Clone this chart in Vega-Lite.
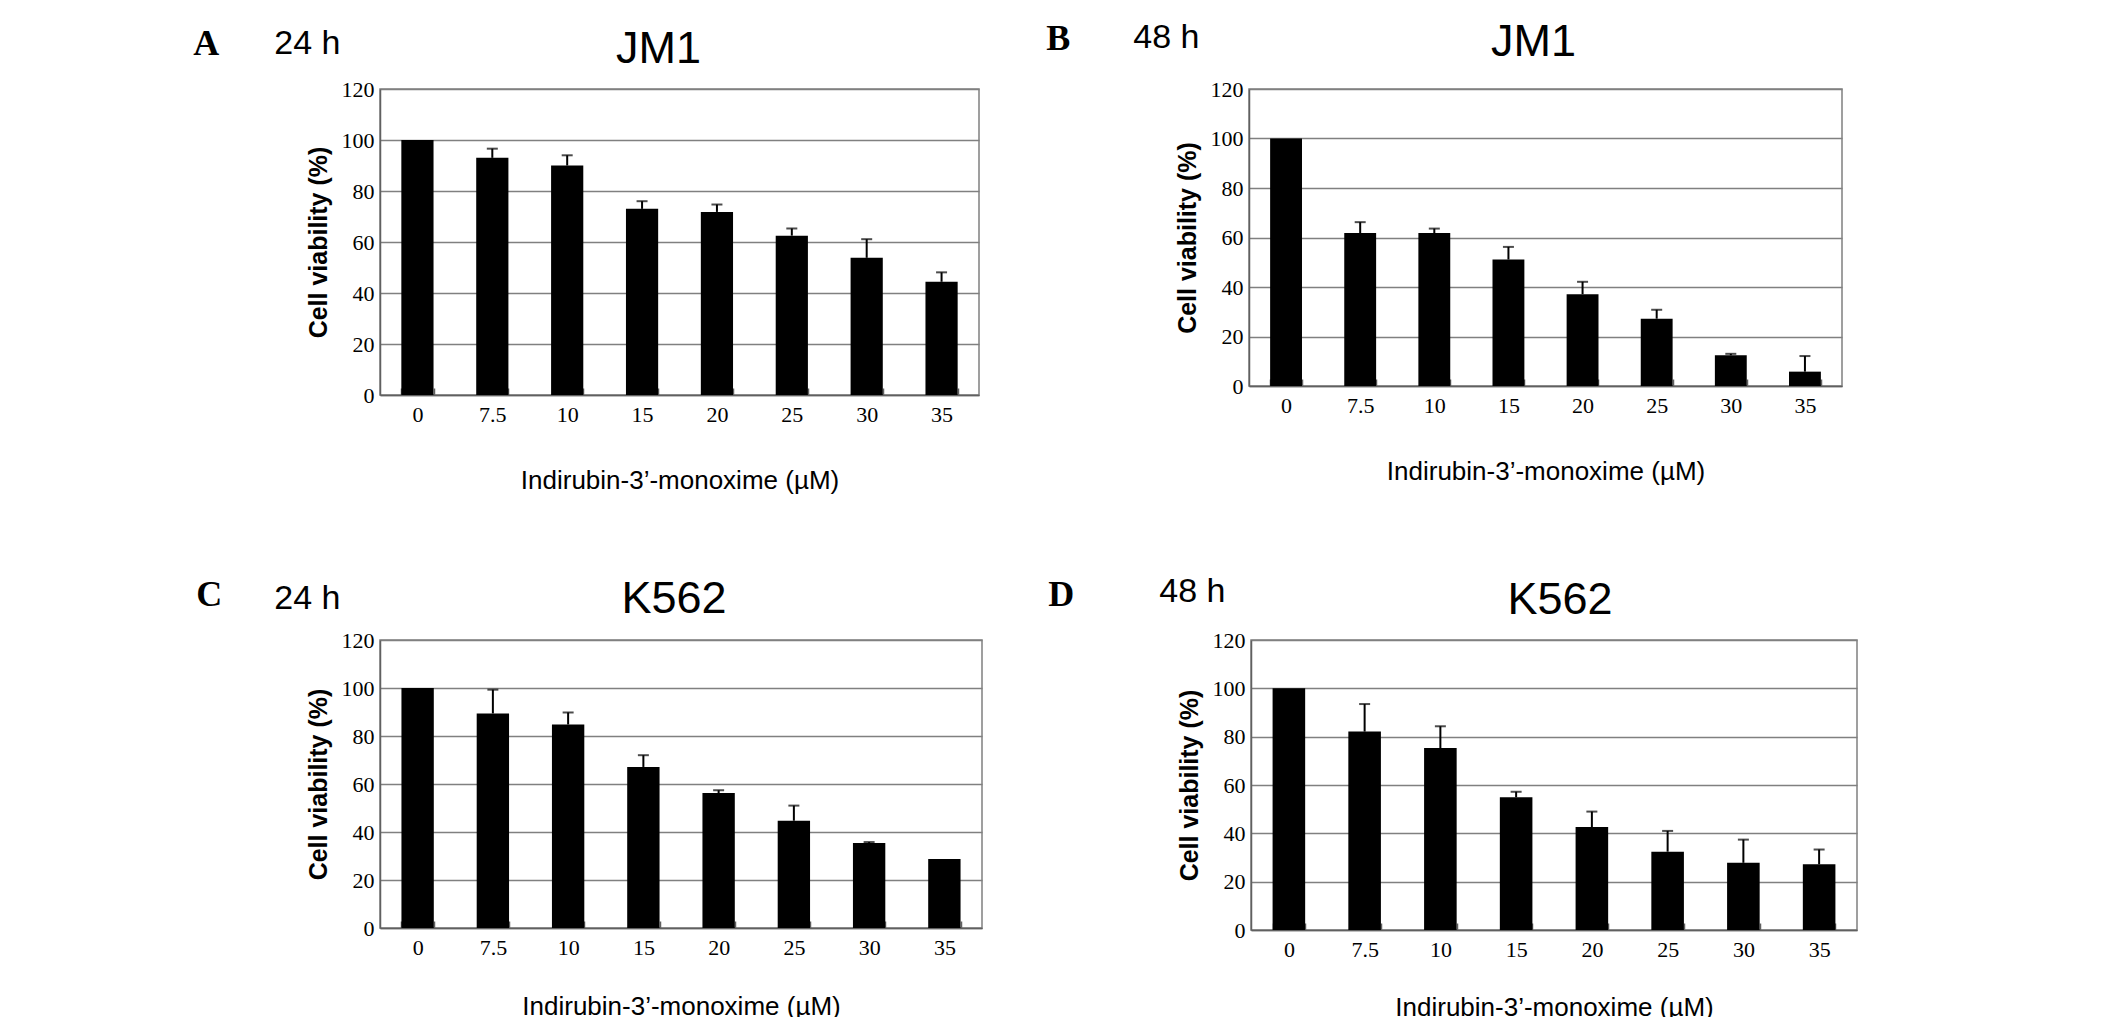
{
  "$schema": "https://vega.github.io/schema/vega-lite/v6.json",
  "description": "Cell viability of JM1 and K562 cells after 24 h and 48 h of indirubin-3'-monoxime.",
  "background": "white",
  "padding": {"left": 193, "top": 19, "right": 10, "bottom": 0},
  "datasets": {
    "viability": [
      {"panel": "A", "conc": "0", "viability": 100, "upper": null},
      {"panel": "A", "conc": "7.5", "viability": 93.0, "upper": 96.6},
      {"panel": "A", "conc": "10", "viability": 90.0, "upper": 94.0},
      {"panel": "A", "conc": "15", "viability": 73.0, "upper": 76.0},
      {"panel": "A", "conc": "20", "viability": 71.8, "upper": 74.7},
      {"panel": "A", "conc": "25", "viability": 62.5, "upper": 65.3},
      {"panel": "A", "conc": "30", "viability": 53.8, "upper": 61.1},
      {"panel": "A", "conc": "35", "viability": 44.4, "upper": 48.1},
      {"panel": "B", "conc": "0", "viability": 100, "upper": null},
      {"panel": "B", "conc": "7.5", "viability": 61.8, "upper": 66.2},
      {"panel": "B", "conc": "10", "viability": 61.8, "upper": 63.6},
      {"panel": "B", "conc": "15", "viability": 51.1, "upper": 56.2},
      {"panel": "B", "conc": "20", "viability": 37.1, "upper": 42.1},
      {"panel": "B", "conc": "25", "viability": 27.2, "upper": 30.8},
      {"panel": "B", "conc": "30", "viability": 12.4, "upper": 13.0},
      {"panel": "B", "conc": "35", "viability": 5.8, "upper": 12.1},
      {"panel": "C", "conc": "0", "viability": 100, "upper": null},
      {"panel": "C", "conc": "7.5", "viability": 89.4, "upper": 99.3},
      {"panel": "C", "conc": "10", "viability": 84.8, "upper": 89.8},
      {"panel": "C", "conc": "15", "viability": 67.1, "upper": 72.0},
      {"panel": "C", "conc": "20", "viability": 56.2, "upper": 57.4},
      {"panel": "C", "conc": "25", "viability": 44.7, "upper": 51.0},
      {"panel": "C", "conc": "30", "viability": 35.4, "upper": 35.8},
      {"panel": "C", "conc": "35", "viability": 28.8, "upper": null},
      {"panel": "D", "conc": "0", "viability": 100, "upper": null},
      {"panel": "D", "conc": "7.5", "viability": 82.1, "upper": 93.5},
      {"panel": "D", "conc": "10", "viability": 75.3, "upper": 84.3},
      {"panel": "D", "conc": "15", "viability": 54.9, "upper": 57.2},
      {"panel": "D", "conc": "20", "viability": 42.6, "upper": 49.0},
      {"panel": "D", "conc": "25", "viability": 32.4, "upper": 41.0},
      {"panel": "D", "conc": "30", "viability": 27.8, "upper": 37.4},
      {"panel": "D", "conc": "35", "viability": 27.2, "upper": 33.3}
    ]
  },
  "config": {
    "font": "Liberation Sans",
    "view": {"stroke": "#808080", "strokeWidth": 1.5},
    "axisX": {
      "domainColor": "#606060", "domainWidth": 1.5,
      "tickColor": "#606060", "tickWidth": 1.5, "tickSize": -7, "tickBand": "extent",
      "labelFont": "Liberation Serif", "labelFontSize": 22, "labelColor": "black", "labelAngle": 0, "labelPadding": 16,
      "titleFont": "Liberation Sans", "titleFontSize": 26, "titleFontWeight": "normal", "titleColor": "black", "titlePadding": 42,
      "grid": false
    },
    "axisY": {
      "domainColor": "#606060", "domainWidth": 1.5, "ticks": false,
      "gridColor": "#808080", "gridWidth": 1.5, "gridOpacity": 1,
      "labelFont": "Liberation Serif", "labelFontSize": 22, "labelColor": "black", "labelPadding": 6,
      "titleFont": "Liberation Sans", "titleFontSize": 25, "titleFontWeight": "bold", "titleColor": "black", "titlePadding": 10
    },
    "title": {"font": "Liberation Sans", "fontSize": 45, "fontWeight": "normal", "color": "black", "baseline": "alphabetic", "anchor": "middle"}
  },
  "spacing": 81,
  "vconcat": [
    {
      "spacing": 66,
      "hconcat": [
        {
          "title": {"text": "A", "anchor": "start", "frame": "bounds", "font": "Liberation Serif", "fontWeight": "bold", "fontSize": 36, "offset": 0, "dx": -81, "dy": 37},
          "vconcat": [
            {
              "title": {"text": "24 h", "anchor": "start", "frame": "bounds", "fontSize": 34, "offset": 0, "dx": -31, "dy": 35},
              "vconcat": [
                {
                  "title": {"text": "JM1", "offset": 6, "dx": -21},
                  "width": 599, "height": 306,
                  "data": {"name": "viability"},
                  "transform": [{"filter": "datum.panel == 'A'"}],
                  "encoding": {
                    "x": {"field": "conc", "type": "nominal", "sort": ["0", "7.5", "10", "15", "20", "25", "30", "35"], "title": "Indirubin-3’-monoxime (µM)", "scale": {"paddingInner": 0.57, "paddingOuter": 0.285}}
                  },
                  "layer": [
                    {"mark": {"type": "bar", "color": "black"}, "encoding": {"y": {"field": "viability", "type": "quantitative", "title": "Cell viability (%)", "scale": {"domain": [0, 120], "nice": false}, "axis": {"values": [0, 20, 40, 60, 80, 100, 120]}}}},
                    {"transform": [{"filter": "datum.upper != null"}], "mark": {"type": "rule", "color": "black", "strokeWidth": 2}, "encoding": {"y": {"field": "viability", "type": "quantitative"}, "y2": {"field": "upper"}}},
                    {"transform": [{"filter": "datum.upper != null"}], "mark": {"type": "tick", "color": "black", "thickness": 2, "size": 11}, "encoding": {"y": {"field": "upper", "type": "quantitative"}}}
                  ]
                }
              ]
            }
          ]
        },
        {
          "title": {"text": "B", "anchor": "start", "frame": "bounds", "font": "Liberation Serif", "fontWeight": "bold", "fontSize": 36, "offset": 0, "dx": -87, "dy": 39},
          "vconcat": [
            {
              "title": {"text": "48 h", "anchor": "start", "frame": "bounds", "fontSize": 34, "offset": 0, "dx": -41, "dy": 36},
              "vconcat": [
                {
                  "title": {"text": "JM1", "offset": 13, "dx": -12},
                  "width": 593, "height": 297,
                  "data": {"name": "viability"},
                  "transform": [{"filter": "datum.panel == 'B'"}],
                  "encoding": {
                    "x": {"field": "conc", "type": "nominal", "sort": ["0", "7.5", "10", "15", "20", "25", "30", "35"], "title": "Indirubin-3’-monoxime (µM)", "scale": {"paddingInner": 0.57, "paddingOuter": 0.285}}
                  },
                  "layer": [
                    {"mark": {"type": "bar", "color": "black"}, "encoding": {"y": {"field": "viability", "type": "quantitative", "title": "Cell viability (%)", "scale": {"domain": [0, 120], "nice": false}, "axis": {"values": [0, 20, 40, 60, 80, 100, 120]}}}},
                    {"transform": [{"filter": "datum.upper != null"}], "mark": {"type": "rule", "color": "black", "strokeWidth": 2}, "encoding": {"y": {"field": "viability", "type": "quantitative"}, "y2": {"field": "upper"}}},
                    {"transform": [{"filter": "datum.upper != null"}], "mark": {"type": "tick", "color": "black", "thickness": 2, "size": 11}, "encoding": {"y": {"field": "upper", "type": "quantitative"}}}
                  ]
                }
              ]
            }
          ]
        }
      ]
    },
    {
      "spacing": 65,
      "hconcat": [
        {
          "title": {"text": "C", "anchor": "start", "frame": "bounds", "font": "Liberation Serif", "fontWeight": "bold", "fontSize": 36, "offset": 0, "dx": -78, "dy": 38},
          "vconcat": [
            {
              "title": {"text": "24 h", "anchor": "start", "frame": "bounds", "fontSize": 34, "offset": 0, "dx": -31, "dy": 40},
              "vconcat": [
                {
                  "title": {"text": "K562", "offset": 7, "dx": -7},
                  "width": 602, "height": 288,
                  "data": {"name": "viability"},
                  "transform": [{"filter": "datum.panel == 'C'"}],
                  "encoding": {
                    "x": {"field": "conc", "type": "nominal", "sort": ["0", "7.5", "10", "15", "20", "25", "30", "35"], "title": "Indirubin-3’-monoxime (µM)", "scale": {"paddingInner": 0.57, "paddingOuter": 0.285}, "axis": {"titlePadding": 35}}
                  },
                  "layer": [
                    {"mark": {"type": "bar", "color": "black"}, "encoding": {"y": {"field": "viability", "type": "quantitative", "title": "Cell viability (%)", "scale": {"domain": [0, 120], "nice": false}, "axis": {"values": [0, 20, 40, 60, 80, 100, 120]}}}},
                    {"transform": [{"filter": "datum.upper != null"}], "mark": {"type": "rule", "color": "black", "strokeWidth": 2}, "encoding": {"y": {"field": "viability", "type": "quantitative"}, "y2": {"field": "upper"}}},
                    {"transform": [{"filter": "datum.upper != null"}], "mark": {"type": "tick", "color": "black", "thickness": 2, "size": 11}, "encoding": {"y": {"field": "upper", "type": "quantitative"}}}
                  ]
                }
              ]
            }
          ]
        },
        {
          "title": {"text": "D", "anchor": "start", "frame": "bounds", "font": "Liberation Serif", "fontWeight": "bold", "fontSize": 36, "offset": 0, "dx": -111, "dy": 39},
          "vconcat": [
            {
              "title": {"text": "48 h", "anchor": "start", "frame": "bounds", "fontSize": 34, "offset": 0, "dx": -17, "dy": 32},
              "vconcat": [
                {
                  "title": {"text": "K562", "offset": 6, "dx": 6},
                  "width": 606, "height": 290,
                  "data": {"name": "viability"},
                  "transform": [{"filter": "datum.panel == 'D'"}],
                  "encoding": {
                    "x": {"field": "conc", "type": "nominal", "sort": ["0", "7.5", "10", "15", "20", "25", "30", "35"], "title": "Indirubin-3’-monoxime (µM)", "scale": {"paddingInner": 0.57, "paddingOuter": 0.285}, "axis": {"titlePadding": 34}}
                  },
                  "layer": [
                    {"mark": {"type": "bar", "color": "black"}, "encoding": {"y": {"field": "viability", "type": "quantitative", "title": "Cell viability (%)", "scale": {"domain": [0, 120], "nice": false}, "axis": {"values": [0, 20, 40, 60, 80, 100, 120]}}}},
                    {"transform": [{"filter": "datum.upper != null"}], "mark": {"type": "rule", "color": "black", "strokeWidth": 2}, "encoding": {"y": {"field": "viability", "type": "quantitative"}, "y2": {"field": "upper"}}},
                    {"transform": [{"filter": "datum.upper != null"}], "mark": {"type": "tick", "color": "black", "thickness": 2, "size": 11}, "encoding": {"y": {"field": "upper", "type": "quantitative"}}}
                  ]
                }
              ]
            }
          ]
        }
      ]
    }
  ]
}
